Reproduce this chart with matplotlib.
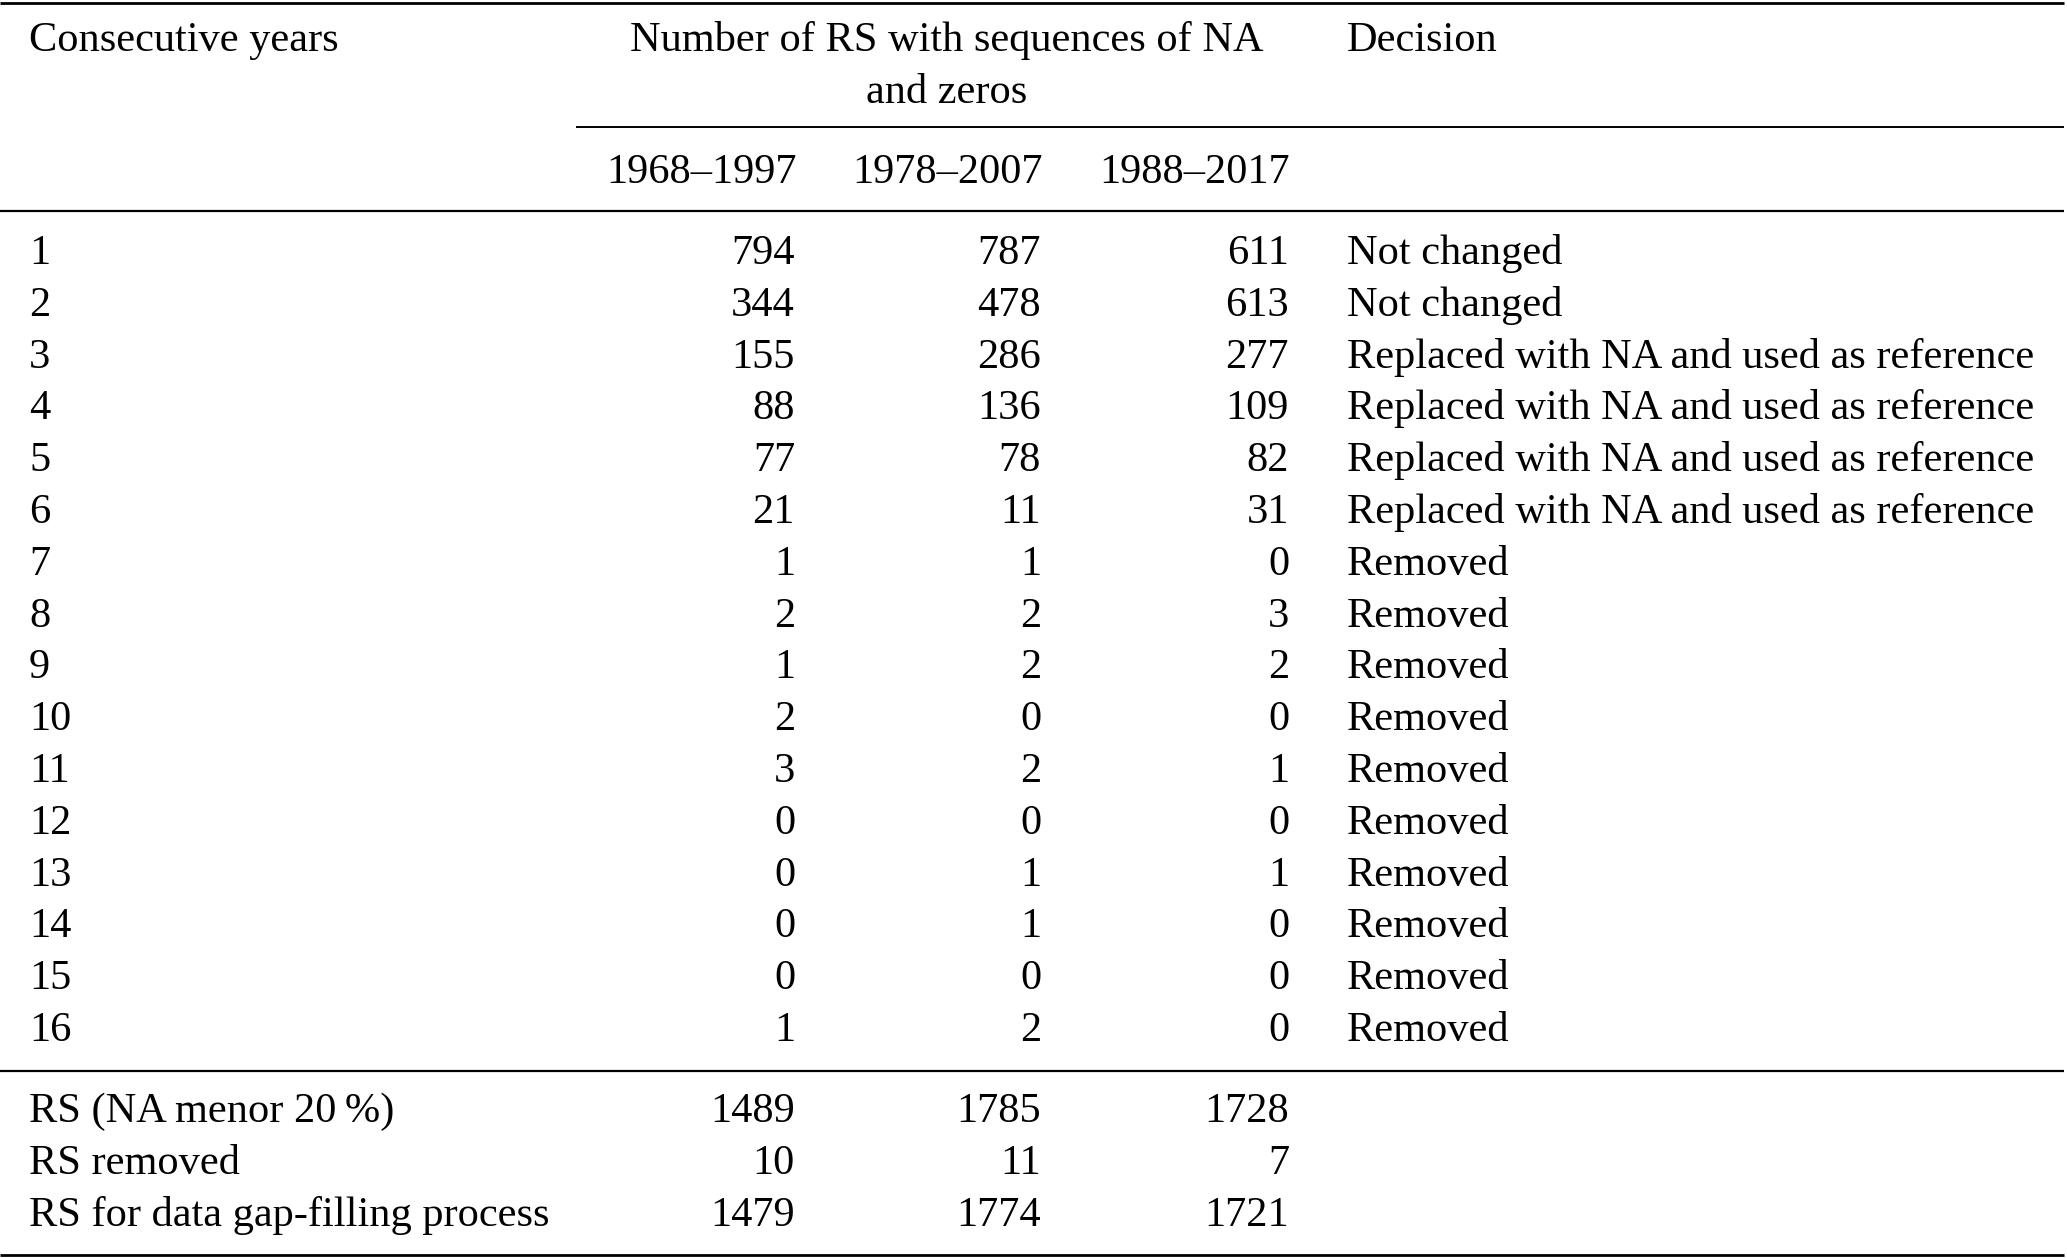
import matplotlib
matplotlib.use("Agg")
import matplotlib.pyplot as plt

# ---- table content ----
consecutive_years = [str(i) for i in range(1, 17)]
periods = ["1968–1997", "1978–2007", "1988–2017"]
counts_1968_1997 = [794, 344, 155, 88, 77, 21, 1, 2, 1, 2, 3, 0, 0, 0, 0, 1]
counts_1978_2007 = [787, 478, 286, 136, 78, 11, 1, 2, 2, 0, 2, 0, 1, 1, 0, 2]
counts_1988_2017 = [611, 613, 277, 109, 82, 31, 0, 3, 2, 0, 1, 0, 1, 0, 0, 0]
decisions = (["Not changed"] * 2
             + ["Replaced with NA and used as reference"] * 4
             + ["Removed"] * 10)

summary_labels = ["RS (NA menor 20\u2009%)", "RS removed", "RS for data gap-filling process"]
summary_1968_1997 = [1489, 10, 1479]
summary_1978_2007 = [1785, 11, 1774]
summary_1988_2017 = [1728, 7, 1721]

header_first = "Consecutive years"
header_counts = ["Number of RS with sequences of NA", "and zeros"]
header_decision = "Decision"

# ---- layout (pixel units, y grows downward) ----
W, H = 2067, 1258
fig = plt.figure(figsize=(W / 100, H / 100), dpi=100)
fig.patch.set_facecolor("white")
ax = fig.add_axes([0, 0, 1, 1])
ax.set_xlim(0, W)
ax.set_ylim(H, 0)
ax.axis("off")

font = dict(family=["Liberation Serif", "DejaVu Serif"], fontsize=30.5, color="black")
rule_lw = 1.6

x_label = 29
x_cols = [795, 1041, 1289]          # right edges of number columns
x_period_centers = [701, 947, 1195]
x_group_center = 947
x_decision = 1347
row_h = 51.8

def rule(y, x0=0, x1=W - 3, lw=rule_lw):
    ax.plot([x0, x1], [y, y], color="black", linewidth=lw, solid_capstyle="butt")

# rules
rule(2.5, lw=2.0)
rule(126.5, x0=576, lw=1.4)
rule(211)
rule(1071)
rule(1255, lw=2.0)

# header
base1 = 51
ax.text(x_label, base1, header_first, ha="left", va="baseline", **font)
for i, line in enumerate(header_counts):
    ax.text(x_group_center, base1 + i * row_h, line, ha="center", va="baseline", **font)
ax.text(x_decision, base1, header_decision, ha="left", va="baseline", **font)
for xc, p in zip(x_period_centers, periods):
    ax.text(xc, 183, p, ha="center", va="baseline", **font)

# body rows
base_body = 264
columns = [counts_1968_1997, counts_1978_2007, counts_1988_2017]
for i, label in enumerate(consecutive_years):
    y = base_body + i * row_h
    ax.text(x_label, y, label, ha="left", va="baseline", **font)
    for xr, col in zip(x_cols, columns):
        ax.text(xr, y, str(col[i]), ha="right", va="baseline", **font)
    ax.text(x_decision, y, decisions[i], ha="left", va="baseline", **font)

# summary rows
base_sum = 1122
sum_cols = [summary_1968_1997, summary_1978_2007, summary_1988_2017]
for i, label in enumerate(summary_labels):
    y = base_sum + i * row_h
    ax.text(x_label, y, label, ha="left", va="baseline", **font)
    for xr, col in zip(x_cols, sum_cols):
        ax.text(xr, y, str(col[i]), ha="right", va="baseline", **font)

fig.savefig("out.png", dpi=100, facecolor="white")
plt.close(fig)
